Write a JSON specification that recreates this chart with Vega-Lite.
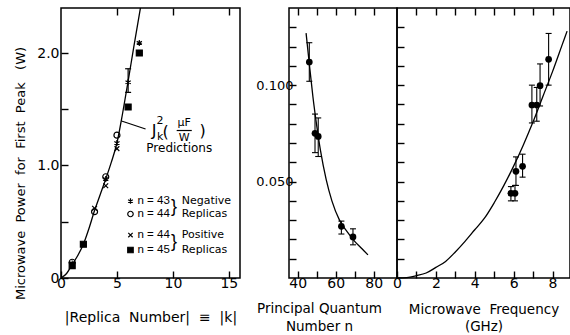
{
  "$schema": "https://vega.github.io/schema/vega-lite/v6.json",
  "background": "white",
  "padding": {"left": 13, "top": 4, "right": 0, "bottom": 0},
  "config": {
    "font": "DejaVu Sans",
    "view": {"stroke": "black", "strokeWidth": 1.5},
    "axis": {"domain": false, "grid": false, "ticks": true, "tickColor": "black", "tickOpacity": 1, "tickSize": -7, "tickWidth": 1.4, "labelColor": "black", "labelFontSize": 14, "labelPadding": 5, "titleColor": "black", "titleFontSize": 14, "titleFontWeight": "normal", "labelFlush": false, "labelOverlap": false, "zindex": 1},
    "text": {"color": "black"}
  },
  "datasets": {
    "curve1": [{"k":0,"P":0},{"k":0.5,"P":0.04},{"k":1,"P":0.12},{"k":1.5,"P":0.2},{"k":2,"P":0.3},{"k":2.5,"P":0.44},{"k":3,"P":0.6},{"k":3.5,"P":0.74},{"k":4,"P":0.88},{"k":4.5,"P":1.03},{"k":5,"P":1.2},{"k":5.5,"P":1.46},{"k":6,"P":1.75},{"k":6.5,"P":2.05},{"k":7.1,"P":2.4}],
    "pts1": [
      {"k":1,"P":0.13,"series":"n=43 neg"},{"k":4,"P":0.88,"series":"n=43 neg"},{"k":5,"P":1.2,"series":"n=43 neg"},{"k":6,"P":1.74,"series":"n=43 neg"},{"k":7,"P":2.09,"series":"n=43 neg"},
      {"k":1,"P":0.14,"series":"n=44 neg"},{"k":3,"P":0.59,"series":"n=44 neg"},{"k":4,"P":0.9,"series":"n=44 neg"},{"k":5,"P":1.27,"series":"n=44 neg"},
      {"k":1,"P":0.12,"series":"n=44 pos"},{"k":2,"P":0.3,"series":"n=44 pos"},{"k":3,"P":0.62,"series":"n=44 pos"},{"k":4,"P":0.82,"series":"n=44 pos"},{"k":5,"P":1.15,"series":"n=44 pos"},
      {"k":1,"P":0.11,"series":"n=45 pos"},{"k":2,"P":0.3,"series":"n=45 pos"},{"k":6,"P":1.52,"series":"n=45 pos"},{"k":7,"P":2.0,"series":"n=45 pos"}
    ],
    "err1": [{"k":6,"lo":1.65,"hi":1.86}],
    "legend1": [
      {"k":6.21,"tk":6.84,"P":0.684,"series":"n=43 neg","label":"n = 43"},
      {"k":6.21,"tk":6.84,"P":0.569,"series":"n=44 neg","label":"n = 44"},
      {"k":6.21,"tk":6.84,"P":0.382,"series":"n=44 pos","label":"n = 44"},
      {"k":6.21,"tk":6.84,"P":0.249,"series":"n=45 pos","label":"n = 45"}
    ],
    "groups1": [
      {"k":10.79,"P":0.684,"label":"Negative"},{"k":10.79,"P":0.569,"label":"Replicas"},
      {"k":10.79,"P":0.382,"label":"Positive"},{"k":10.79,"P":0.249,"label":"Replicas"}
    ],
    "braces1": [{"k":10.1,"P":0.627,"label":"}"},{"k":10.1,"P":0.316,"label":"}"}],
    "curve2": [{"n":44.4,"P":0.127},{"n":46,"P":0.112},{"n":48,"P":0.094},{"n":50,"P":0.079},{"n":52,"P":0.066},{"n":55,"P":0.051},{"n":58,"P":0.04},{"n":62,"P":0.03},{"n":66,"P":0.024},{"n":70,"P":0.019},{"n":74,"P":0.015},{"n":77,"P":0.012}],
    "pts2": [
      {"n":46.1,"P":0.112,"lo":0.102,"hi":0.122},
      {"n":49.1,"P":0.075,"lo":0.065,"hi":0.085},
      {"n":50.8,"P":0.0734,"lo":0.063,"hi":0.083},
      {"n":63.0,"P":0.0268,"lo":0.0228,"hi":0.0295},
      {"n":69.1,"P":0.0213,"lo":0.0172,"hi":0.0255}
    ],
    "curve3": [{"f":0,"P":0},{"f":0.5,"P":0.0002},{"f":1,"P":0.0012},{"f":1.5,"P":0.0026},{"f":2,"P":0.0055},{"f":2.5,"P":0.0086},{"f":3,"P":0.0135},{"f":3.5,"P":0.019},{"f":4,"P":0.025},{"f":4.5,"P":0.031},{"f":5,"P":0.039},{"f":5.5,"P":0.048},{"f":6,"P":0.058},{"f":6.5,"P":0.069},{"f":7,"P":0.081},{"f":7.5,"P":0.094},{"f":8,"P":0.107},{"f":8.5,"P":0.121},{"f":8.75,"P":0.128}],
    "pts3": [
      {"f":5.86,"P":0.0439,"lo":0.04,"hi":0.0474},
      {"f":6.07,"P":0.0439,"lo":0.04,"hi":0.048},
      {"f":6.12,"P":0.0553,"lo":0.048,"hi":0.0628},
      {"f":6.46,"P":0.0579,"lo":0.0523,"hi":0.0642},
      {"f":6.94,"P":0.0897,"lo":0.0804,"hi":0.1},
      {"f":7.19,"P":0.0897,"lo":0.0813,"hi":0.0988},
      {"f":7.36,"P":0.0997,"lo":0.0892,"hi":0.111},
      {"f":7.8,"P":0.1134,"lo":0.1,"hi":0.1268}
    ]
  },
  "spacing": 49,
  "bounds": "flush",
  "hconcat": [
    {
      "width": 179,
      "height": 270,
      "resolve": {"axis": {"x": "independent", "y": "independent"}},
      "layer": [
        {
          "data": {"name": "curve1"},
          "mark": {"type": "line", "color": "black", "strokeWidth": 1.3, "interpolate": "monotone"},
          "encoding": {
            "x": {"field": "k", "type": "quantitative", "scale": {"domain": [0, 16], "nice": false, "zero": false},
                  "axis": {"orient": "bottom", "values": [0, 5, 10, 15], "tickSize": -7, "tickColor": "black", "format": "d", "title": "|Replica\u00a0 Number| \u00a0≡\u00a0 |k|", "titleY": 43, "titleBaseline": "alphabetic"}},
            "y": {"field": "P", "type": "quantitative", "scale": {"domain": [0, 2.4], "nice": false, "zero": false},
                  "axis": {"orient": "left", "values": [0, 0.5, 1, 1.5, 2], "tickSize": -7, "tickColor": "black", "labelPadding": 9, "labelExpr": "datum.value == 0 ? '0' : (datum.value == 1 || datum.value == 2) ? format(datum.value, '.1f') : ''", "title": "Microwave\u00a0 Power\u00a0 for\u00a0 First\u00a0 Peak\u00a0 \u00a0(W)", "titleFontSize": 13, "titleX": -41, "titleY": 165, "titleAngle": -90, "titleAlign": "center", "titleBaseline": "middle"}}
          }
        },
        {
          "data": {"name": "pts1"},
          "mark": {"type": "point", "stroke": "black", "strokeWidth": 1.2, "size": 36, "opacity": 1},
          "encoding": {
            "x": {"field": "k", "type": "quantitative", "axis": {"orient": "top", "values": [5, 10, 15], "tickSize": -7, "tickColor": "black", "labels": false, "title": null}},
            "y": {"field": "P", "type": "quantitative", "axis": null},
            "shape": {"field": "series", "type": "nominal", "legend": null,
                      "scale": {"domain": ["n=43 neg", "n=44 neg", "n=44 pos", "n=45 pos"], "range": ["M0,-1L0,1M-0.87,-0.5L0.87,0.5M-0.87,0.5L0.87,-0.5", "circle", "M-0.8,-0.8L0.8,0.8M-0.8,0.8L0.8,-0.8", "square"]}},
            "fill": {"field": "series", "type": "nominal", "legend": null,
                     "scale": {"domain": ["n=43 neg", "n=44 neg", "n=44 pos", "n=45 pos"], "range": ["transparent", "transparent", "transparent", "black"]}}
          }
        },
        {
          "data": {"name": "legend1"},
          "mark": {"type": "point", "stroke": "black", "strokeWidth": 1.2, "size": 30, "opacity": 1},
          "encoding": {
            "x": {"field": "k", "type": "quantitative", "axis": null},
            "y": {"field": "P", "type": "quantitative", "axis": null},
            "shape": {"field": "series", "type": "nominal", "legend": null},
            "fill": {"field": "series", "type": "nominal", "legend": null}
          }
        },
        {
          "data": {"name": "legend1"},
          "mark": {"type": "text", "fontSize": 11.5, "font": "Liberation Sans", "align": "left", "baseline": "middle"},
          "encoding": {
            "x": {"field": "tk", "type": "quantitative", "axis": null},
            "y": {"field": "P", "type": "quantitative", "axis": null},
            "text": {"field": "label"}
          }
        },
        {
          "data": {"name": "groups1"},
          "mark": {"type": "text", "fontSize": 11, "align": "left", "baseline": "middle"},
          "encoding": {
            "x": {"field": "k", "type": "quantitative", "axis": null},
            "y": {"field": "P", "type": "quantitative", "axis": null},
            "text": {"field": "label"}
          }
        },
        {
          "data": {"name": "braces1"},
          "mark": {"type": "text", "fontSize": 18, "font": "Liberation Sans", "align": "center", "baseline": "middle"},
          "encoding": {
            "x": {"field": "k", "type": "quantitative", "axis": null},
            "y": {"field": "P", "type": "quantitative", "axis": null},
            "text": {"field": "label"}
          }
        },
        {
          "data": {"name": "err1"},
          "mark": {"type": "rule", "color": "black", "strokeWidth": 1.2},
          "encoding": {
            "x": {"field": "k", "type": "quantitative", "axis": null},
            "y": {"field": "lo", "type": "quantitative", "axis": null},
            "y2": {"field": "hi"}
          }
        },
        {
          "data": {"name": "err1"},
          "mark": {"type": "tick", "orient": "horizontal", "color": "black", "size": 6, "thickness": 1.2, "opacity": 1},
          "encoding": {
            "x": {"field": "k", "type": "quantitative", "axis": null},
            "y": {"field": "hi", "type": "quantitative", "axis": null}
          }
        },
        {
          "data": {"name": "err1"},
          "mark": {"type": "tick", "orient": "horizontal", "color": "black", "size": 6, "thickness": 1.2, "opacity": 1},
          "encoding": {
            "x": {"field": "k", "type": "quantitative", "axis": null},
            "y": {"field": "lo", "type": "quantitative", "axis": null}
          }
        },
        {
          "data": {"values": [{"k1": 5.41, "P1": 1.396, "k2": 7.56, "P2": 1.324}, {"k1": 10.34, "P1": 1.311, "k2": 11.69, "P2": 1.311}]},
          "mark": {"type": "rule", "color": "black", "strokeWidth": 1.2},
          "encoding": {
            "x": {"field": "k1", "type": "quantitative", "axis": null},
            "y": {"field": "P1", "type": "quantitative", "axis": null},
            "x2": {"field": "k2"},
            "y2": {"field": "P2"}
          }
        },
        {
          "data": {"values": [{"k": 8.32, "P": 1.307, "t": "J"}, {"k": 9.35, "P": 1.298, "t": "("}, {"k": 12.67, "P": 1.307, "t": ")"}]},
          "mark": {"type": "text", "fontSize": 16, "align": "center", "baseline": "middle"},
          "encoding": {
            "x": {"field": "k", "type": "quantitative", "axis": null},
            "y": {"field": "P", "type": "quantitative", "axis": null},
            "text": {"field": "t"}
          }
        },
        {
          "data": {"values": [{"k": 8.86, "P": 1.396, "t": "2"}, {"k": 8.86, "P": 1.253, "t": "k"}, {"k": 11.01, "P": 1.376, "t": "μF"}, {"k": 11.01, "P": 1.246, "t": "W"}]},
          "mark": {"type": "text", "fontSize": 11, "align": "center", "baseline": "middle"},
          "encoding": {
            "x": {"field": "k", "type": "quantitative", "axis": null},
            "y": {"field": "P", "type": "quantitative", "axis": null},
            "text": {"field": "t"}
          }
        },
        {
          "data": {"values": [{"k": 10.57, "P": 1.156, "t": "Predictions"}]},
          "mark": {"type": "text", "fontSize": 12, "align": "center", "baseline": "middle"},
          "encoding": {
            "x": {"field": "k", "type": "quantitative", "axis": null},
            "y": {"field": "P", "type": "quantitative", "axis": null},
            "text": {"field": "t"}
          }
        }
      ]
    },
    {
      "spacing": 0,
      "bounds": "flush",
      "hconcat": [
        {
          "width": 108,
          "height": 270,
          "resolve": {"axis": {"x": "independent", "y": "independent"}},
          "layer": [
            {
              "data": {"name": "curve2"},
              "mark": {"type": "line", "color": "black", "strokeWidth": 1.3, "interpolate": "monotone"},
              "encoding": {
                "x": {"field": "n", "type": "quantitative", "scale": {"domain": [35.4, 92.3], "nice": false, "zero": false},
                      "axis": {"orient": "bottom", "values": [40, 50, 60, 70, 80], "tickSize": -7, "tickColor": "black", "labelExpr": "datum.value % 20 == 0 ? datum.label : ''", "title": ["Principal Quantum", "Number n"], "titleFontSize": 13.5, "titleX": 30, "titleY": 34, "titleAlign": "center", "titleBaseline": "alphabetic", "titleLineHeight": 18}},
                "y": {"field": "P", "type": "quantitative", "scale": {"domain": [0, 0.14], "nice": false, "zero": false},
                      "axis": {"orient": "left", "values": [0.01, 0.02, 0.03, 0.04, 0.05, 0.06, 0.07, 0.08, 0.09, 0.1, 0.11, 0.12, 0.13], "tickSize": -7, "tickColor": "black", "labelPadding": 3, "labelExpr": "abs(datum.value - 0.05) < 1e-6 ? '0.050' : abs(datum.value - 0.1) < 1e-6 ? '0.100' : ''", "labelFontSize": 13, "title": null}}
              }
            },
            {
              "data": {"name": "pts2"},
              "mark": {"type": "rule", "color": "black", "strokeWidth": 1.1},
              "encoding": {
                "x": {"field": "n", "type": "quantitative", "axis": {"orient": "top", "values": [40, 50, 60, 70, 80], "tickSize": -7, "tickColor": "black", "labels": false, "title": null}},
                "y": {"field": "lo", "type": "quantitative", "axis": null},
                "y2": {"field": "hi"}
              }
            },
            {
              "data": {"name": "pts2"},
              "mark": {"type": "tick", "orient": "horizontal", "color": "black", "size": 6, "thickness": 1.1, "opacity": 1},
              "encoding": {
                "x": {"field": "n", "type": "quantitative", "axis": null},
                "y": {"field": "lo", "type": "quantitative", "axis": null}
              }
            },
            {
              "data": {"name": "pts2"},
              "mark": {"type": "tick", "orient": "horizontal", "color": "black", "size": 6, "thickness": 1.1, "opacity": 1},
              "encoding": {
                "x": {"field": "n", "type": "quantitative", "axis": null},
                "y": {"field": "hi", "type": "quantitative", "axis": null}
              }
            },
            {
              "data": {"name": "pts2"},
              "mark": {"type": "circle", "color": "black", "size": 45, "opacity": 1},
              "encoding": {
                "x": {"field": "n", "type": "quantitative", "axis": null},
                "y": {"field": "P", "type": "quantitative", "axis": null}
              }
            }
          ]
        },
        {
          "width": 173,
          "height": 270,
          "resolve": {"axis": {"x": "independent", "y": "independent"}},
          "layer": [
            {
              "data": {"name": "curve3"},
              "mark": {"type": "line", "color": "black", "strokeWidth": 1.3, "interpolate": "monotone"},
              "encoding": {
                "x": {"field": "f", "type": "quantitative", "scale": {"domain": [0, 8.9], "nice": false, "zero": false},
                      "axis": {"orient": "bottom", "values": [0, 1, 2, 3, 4, 5, 6, 7, 8], "tickSize": -7, "tickColor": "black", "labelExpr": "datum.value % 2 == 0 ? datum.label : ''", "title": ["Microwave\u00a0 Frequency", "(GHz)"], "titleFontSize": 13.5, "titleY": 35, "titleBaseline": "alphabetic", "titleLineHeight": 17}},
                "y": {"field": "P", "type": "quantitative", "scale": {"domain": [0, 0.14], "nice": false, "zero": false},
                      "axis": {"orient": "left", "values": [0.01, 0.02, 0.03, 0.04, 0.05, 0.06, 0.07, 0.08, 0.09, 0.1, 0.11, 0.12, 0.13], "tickSize": -7, "tickColor": "black", "labels": false, "title": null}}
              }
            },
            {
              "data": {"name": "pts3"},
              "mark": {"type": "rule", "color": "black", "strokeWidth": 1.1},
              "encoding": {
                "x": {"field": "f", "type": "quantitative", "axis": {"orient": "top", "values": [1, 2, 3, 4, 5, 6, 7, 8], "tickSize": -7, "tickColor": "black", "labels": false, "title": null}},
                "y": {"field": "lo", "type": "quantitative", "axis": null},
                "y2": {"field": "hi"}
              }
            },
            {
              "data": {"name": "pts3"},
              "mark": {"type": "tick", "orient": "horizontal", "color": "black", "size": 6, "thickness": 1.1, "opacity": 1},
              "encoding": {
                "x": {"field": "f", "type": "quantitative", "axis": null},
                "y": {"field": "lo", "type": "quantitative", "axis": null}
              }
            },
            {
              "data": {"name": "pts3"},
              "mark": {"type": "tick", "orient": "horizontal", "color": "black", "size": 6, "thickness": 1.1, "opacity": 1},
              "encoding": {
                "x": {"field": "f", "type": "quantitative", "axis": null},
                "y": {"field": "hi", "type": "quantitative", "axis": null}
              }
            },
            {
              "data": {"name": "pts3"},
              "mark": {"type": "circle", "color": "black", "size": 45, "opacity": 1},
              "encoding": {
                "x": {"field": "f", "type": "quantitative", "axis": null},
                "y": {"field": "P", "type": "quantitative", "axis": null}
              }
            }
          ]
        }
      ]
    }
  ]
}
